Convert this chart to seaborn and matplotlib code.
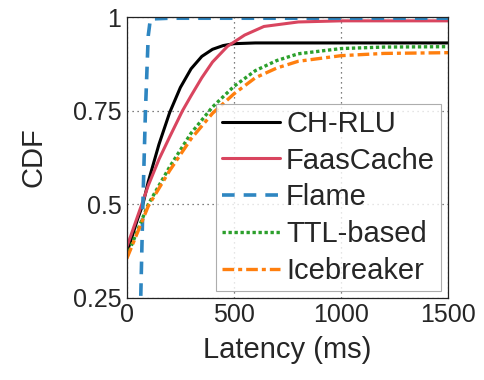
import matplotlib
matplotlib.use("Agg")
import matplotlib.pyplot as plt
import seaborn as sns
import pandas as pd

# ---- data ----
ch_rlu_x = [0, 50, 75, 100, 150, 200, 250, 300, 350, 400, 450, 500, 600, 1500]
ch_rlu_y = [0.37, 0.46, 0.50, 0.56, 0.66, 0.745, 0.812, 0.862, 0.895, 0.914, 0.924, 0.929, 0.931, 0.931]

faas_x = [0, 70, 100, 150, 200, 260, 300, 350, 400, 470, 550, 640, 800, 1000, 1500]
faas_y = [0.386, 0.50, 0.55, 0.62, 0.68, 0.75, 0.79, 0.838, 0.88, 0.922, 0.952, 0.975, 0.987, 0.99, 0.99]

flame_x = [0, 60, 65, 75, 87, 100, 110, 200, 1500]
flame_y = [0.0, 0.10, 0.25, 0.50, 0.75, 0.95, 0.995, 0.997, 0.997]

ttl_x = [0, 100, 200, 300, 400, 500, 600, 700, 800, 1000, 1200, 1500]
ttl_y = [0.36, 0.50, 0.60, 0.69, 0.76, 0.815, 0.857, 0.884, 0.902, 0.916, 0.920, 0.921]

ice_x = [0, 100, 200, 300, 400, 500, 600, 700, 800, 1000, 1200, 1500]
ice_y = [0.355, 0.495, 0.59, 0.675, 0.743, 0.795, 0.838, 0.864, 0.882, 0.897, 0.903, 0.905]

labels = ["CH-RLU", "FaasCache", "Flame", "TTL-based", "Icebreaker"]
x_ticks = [0, 500, 1000, 1500]
y_ticks = [0.25, 0.5, 0.75, 1]
y_tick_labels = ["0.25", "0.5", "0.75", "1"]

series = [
    (ch_rlu_x, ch_rlu_y, "#000000", "-", 2.2),
    (faas_x, faas_y, "#D9455F", "-", 2.2),
    (flame_x, flame_y, "#2E86C1", (0, (3.5, 2.5)), 2.6),
    (ttl_x, ttl_y, "#2CA02C", (0, (1, 0.8)), 2.4),
    (ice_x, ice_y, "#FF7F0E", (0, (3.5, 1.2, 1.2, 1.2)), 2.4),
]

sns.set_style("white")
plt.rcParams["font.family"] = ["Liberation Sans", "DejaVu Sans"]

fig = plt.figure(figsize=(4.84, 3.8), dpi=100)
ax = fig.add_axes([0.262, 0.216, 0.664, 0.739])

for (xs, ys, c, ls, lw), lab in zip(series, labels):
    df = pd.DataFrame({"Latency": xs, "CDF": ys})
    sns.lineplot(data=df, x="Latency", y="CDF", ax=ax, color=c,
                 linestyle=ls, linewidth=lw, label=lab, sort=False)

ax.set_xlim(0, 1500)
ax.set_ylim(0.25, 1.0)
ax.set_xticks(x_ticks)
ax.set_yticks(y_ticks)
ax.set_yticklabels(y_tick_labels)
ax.tick_params(axis="both", labelsize=18, direction="in", length=4,
               width=0.8, color="#333333", pad=4)
ax.grid(True, linestyle=(0, (1, 3)), color="#555555", linewidth=0.9)
for s in ax.spines.values():
    s.set_color("#222222")
    s.set_linewidth(0.9)
ax.set_xlabel("Latency (ms)", fontsize=21, labelpad=6)
ax.set_ylabel("CDF", fontsize=21, labelpad=18)

leg = ax.legend(loc="lower right", fontsize=21, frameon=True, fancybox=False,
                handlelength=2.0, handletextpad=0.2, borderpad=0.2,
                labelspacing=0.3, borderaxespad=0.25)
leg.get_frame().set_edgecolor("#999999")
leg.get_frame().set_linewidth(0.8)

fig.savefig("out.png", dpi=100)
